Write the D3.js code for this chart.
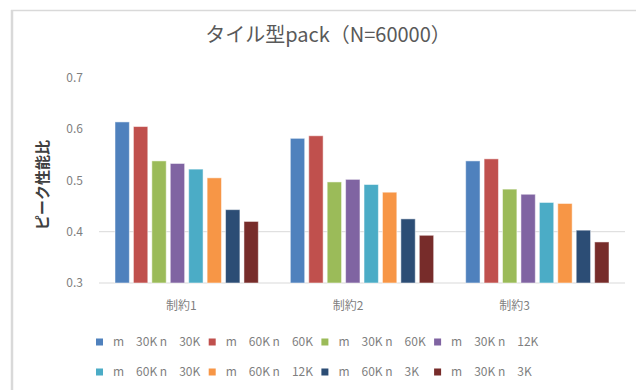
<!DOCTYPE html>
<html>
<head>
<meta charset="utf-8">
<script src="https://cdn.jsdelivr.net/npm/d3@7"></script>
<style>
  body { margin: 0; background: #fff; }
  text { font-family: "Noto Sans CJK JP", "Noto Sans", sans-serif; }
</style>
</head>
<body>
<svg width="636" height="390"></svg>
<script>
  const categories = ["制約1", "制約2", "制約3"];
  const seriesNames = [
    "m\u300030K n\u300030K",
    "m\u300060K n\u300060K",
    "m\u300030K n\u300060K",
    "m\u300030K n\u300012K",
    "m\u300060K n\u300030K",
    "m\u300060K n\u300012K",
    "m\u300060K n\u30003K",
    "m\u300030K n\u30003K"
  ];
  const seriesColors = ["#4f81bd", "#c0504d", "#9bbb59", "#8064a2", "#4bacc6", "#f79646", "#2c4d75", "#772c2a"];
  // one array per category, in series order
  const values1 = [0.614, 0.605, 0.538, 0.533, 0.522, 0.505, 0.443, 0.420];
  const values2 = [0.582, 0.587, 0.497, 0.502, 0.492, 0.477, 0.425, 0.393];
  const values3 = [0.538, 0.542, 0.483, 0.473, 0.457, 0.455, 0.403, 0.380];
  const yTicks = [0.3, 0.4, 0.5, 0.6, 0.7];
  const gridTicks = [0.4];

  const table = [values1, values2, values3];

  const svg = d3.select("svg");

  // frame
  svg.append("line").attr("x1", 11).attr("x2", 636).attr("y1", 10.5).attr("y2", 10.5)
    .attr("stroke", "#d9d9d9").attr("stroke-width", 1.5);
  svg.append("line").attr("x1", 12).attr("x2", 12).attr("y1", 10).attr("y2", 390)
    .attr("stroke", "#d9d9d9").attr("stroke-width", 2.5);

  const x0 = d3.scaleBand().domain(categories).range([99, 625]);
  const x1 = d3.scaleBand().domain(d3.range(seriesNames.length))
    .range([16, x0.bandwidth() - 16]).paddingInner(0.22);
  const xLabel = d3.scaleBand().domain(categories).range([98, 598]);
  const y = d3.scaleLinear().domain([0.3, 0.7]).range([283, 77.8]);

  // title
  svg.append("text").attr("x", 328).attr("y", 42).attr("text-anchor", "middle")
    .attr("font-size", 20).attr("fill", "#595959").text("タイル型pack（N=60000）");

  // grid + baseline
  svg.selectAll(".grid").data(gridTicks).enter().append("line")
    .attr("x1", 99).attr("x2", 625)
    .attr("y1", d => y(d)).attr("y2", d => y(d))
    .attr("stroke", "#d9d9d9").attr("stroke-width", 1);
  svg.append("line").attr("x1", 99).attr("x2", 625)
    .attr("y1", y(0.3)).attr("y2", y(0.3))
    .attr("stroke", "#d9d9d9").attr("stroke-width", 1);

  // y tick labels
  svg.selectAll(".ytick").data(yTicks).enter().append("text")
    .attr("x", 83).attr("y", d => y(d)).attr("dy", "0.35em")
    .attr("text-anchor", "end").attr("font-size", 12).attr("fill", "#7f7f7f")
    .text(d => d3.format(".1f")(d));

  // y axis title
  svg.append("text")
    .attr("transform", "translate(48,185) rotate(-90)")
    .attr("text-anchor", "middle").attr("font-size", 15).attr("font-weight", "bold")
    .attr("fill", "#404040").text("ピーク性能比");

  // bars
  const groups = svg.selectAll(".grp").data(table).enter().append("g")
    .attr("transform", (d, i) => `translate(${x0(categories[i])},0)`);
  groups.selectAll("rect").data(d => d).enter().append("rect")
    .attr("x", (d, j) => x1(j))
    .attr("y", d => y(d))
    .attr("width", x1.bandwidth())
    .attr("height", d => y(0.3) - y(d))
    .attr("fill", (d, j) => seriesColors[j])
    .attr("stroke", "#ffffff").attr("stroke-opacity", 0.5).attr("stroke-width", 1);

  // category labels
  svg.selectAll(".cat").data(categories).enter().append("text")
    .attr("x", d => xLabel(d) + xLabel.bandwidth() / 2).attr("y", 306).attr("dy", "0.35em")
    .attr("text-anchor", "middle").attr("font-size", 12).attr("fill", "#7f7f7f")
    .text(d => d);

  // legend
  const legend = svg.selectAll(".leg").data(seriesNames).enter().append("g")
    .attr("transform", (d, i) => `translate(${96 + (i % 4) * 112.7},${i < 4 ? 342 : 372})`);
  legend.append("rect").attr("x", 0).attr("y", -3.5).attr("width", 7).attr("height", 7)
    .attr("fill", (d, i) => seriesColors[i]);
  legend.append("text").attr("x", 17).attr("y", 0).attr("dy", "0.35em")
    .attr("font-size", 12).attr("fill", "#7f7f7f")
    .text(d => d);
</script>
</body>
</html>
